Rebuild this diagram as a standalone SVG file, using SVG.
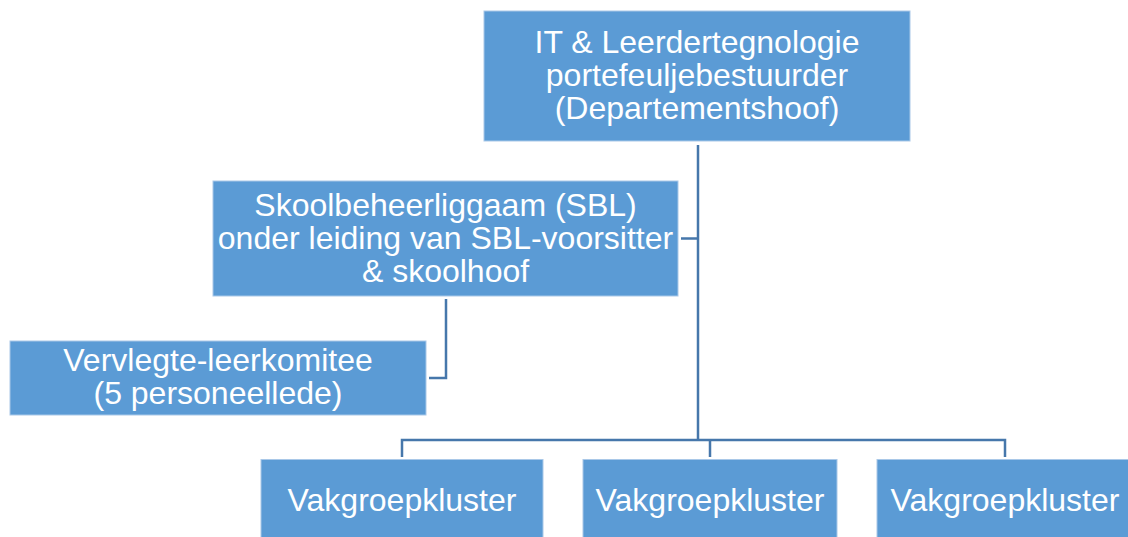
<svg xmlns="http://www.w3.org/2000/svg" width="1128" height="537" viewBox="0 0 1128 537">
<style>
.box{fill:#5B9BD5;stroke:#A9C8E8;stroke-width:1}
.t{font-family:"Liberation Sans",Arial,sans-serif;font-size:32px;fill:#FFFFFF;text-anchor:middle}
.c{fill:none;stroke:#4677AB;stroke-width:2.5}
</style>
<rect width="1128" height="537" fill="#FFFFFF"/>
<g id="connectors">
<path class="c" d="M698,145 V440"/>
<path class="c" d="M681,238.5 H698"/>
<path class="c" d="M446,299 V378 H429"/>
<path class="c" d="M402,457 V440 H1005 V457"/>
<path class="c" d="M710,440 V457"/>
</g>
<g id="node-top">
<rect class="box" x="484" y="11" width="426" height="130"/>
<text class="t" x="697" y="53">IT &amp; Leerdertegnologie</text>
<text class="t" x="697" y="86">portefeuljebestuurder</text>
<text class="t" x="697" y="119">(Departementshoof)</text>
</g>
<g id="node-sbl">
<rect class="box" x="213" y="181" width="465" height="115"/>
<text class="t" x="445.5" y="216">Skoolbeheerliggaam (SBL)</text>
<text class="t" x="445.5" y="249">onder leiding van SBL-voorsitter</text>
<text class="t" x="445.5" y="282">&amp; skoolhoof</text>
</g>
<g id="node-vervlegte">
<rect class="box" x="10" y="341" width="416" height="74"/>
<text class="t" x="218" y="371">Vervlegte-leerkomitee</text>
<text class="t" x="218" y="404">(5 personeellede)</text>
</g>
<g id="node-vak1">
<rect class="box" x="261" y="459.5" width="282" height="90"/>
<text class="t" x="402" y="511">Vakgroepkluster</text>
</g>
<g id="node-vak2">
<rect class="box" x="583" y="459.5" width="254" height="90"/>
<text class="t" x="710" y="511">Vakgroepkluster</text>
</g>
<g id="node-vak3">
<rect class="box" x="877" y="459.5" width="260" height="90"/>
<text class="t" x="1005" y="511">Vakgroepkluster</text>
</g>
</svg>
